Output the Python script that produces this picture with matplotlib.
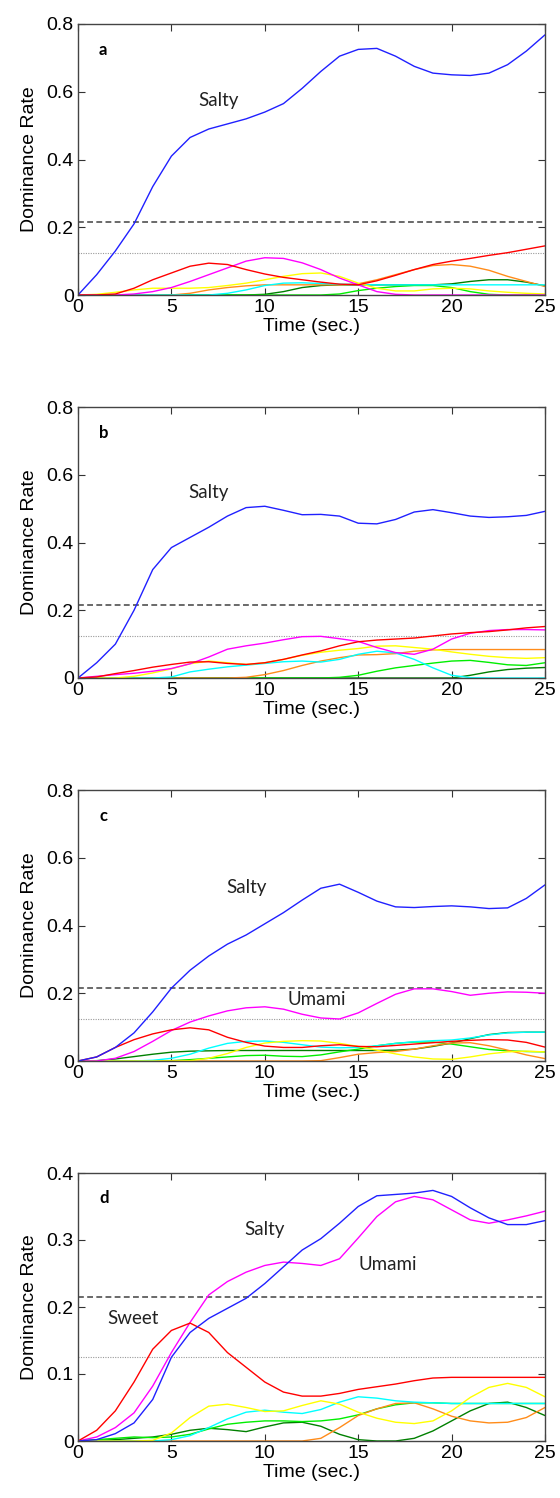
import matplotlib
matplotlib.use("Agg")
import matplotlib.pyplot as plt

# ---------------- data (time in seconds, 1-s steps) ----------------
time = list(range(26))

# Panel a
a_blue    = [0, 0.06, 0.13, 0.21, 0.32, 0.41, 0.465, 0.49, 0.505, 0.52, 0.54, 0.565, 0.61, 0.66, 0.705, 0.725, 0.728, 0.705, 0.675, 0.655, 0.65, 0.648, 0.655, 0.68, 0.72, 0.768]
a_red     = [0, 0, 0.003, 0.02, 0.045, 0.065, 0.085, 0.094, 0.09, 0.075, 0.062, 0.052, 0.045, 0.038, 0.032, 0.03, 0.042, 0.058, 0.075, 0.09, 0.1, 0.108, 0.117, 0.125, 0.135, 0.145]
a_magenta = [0, 0, 0, 0.003, 0.01, 0.022, 0.04, 0.06, 0.08, 0.1, 0.11, 0.108, 0.095, 0.075, 0.05, 0.03, 0.01, 0.002, 0, 0, 0, 0, 0, 0, 0, 0]
a_yellow  = [0, 0.002, 0.008, 0.015, 0.02, 0.02, 0.02, 0.022, 0.028, 0.035, 0.045, 0.055, 0.063, 0.065, 0.055, 0.035, 0.02, 0.012, 0.012, 0.018, 0.02, 0.018, 0.012, 0.008, 0.005, 0.003]
a_cyan    = [0, 0, 0, 0, 0, 0, 0, 0, 0.005, 0.015, 0.028, 0.035, 0.036, 0.034, 0.032, 0.031, 0.03, 0.03, 0.03, 0.03, 0.03, 0.03, 0.03, 0.03, 0.03, 0.03]
a_orange  = [0, 0, 0, 0, 0, 0, 0.005, 0.015, 0.022, 0.027, 0.03, 0.03, 0.03, 0.03, 0.03, 0.033, 0.045, 0.06, 0.075, 0.087, 0.09, 0.085, 0.073, 0.055, 0.04, 0.025]
a_lime    = [0, 0, 0, 0, 0, 0, 0, 0, 0, 0, 0, 0, 0, 0, 0.003, 0.013, 0.02, 0.025, 0.028, 0.028, 0.022, 0.01, 0.002, 0, 0, 0]
a_dgreen  = [0, 0, 0, 0, 0, 0, 0, 0, 0, 0, 0.002, 0.01, 0.022, 0.028, 0.03, 0.03, 0.03, 0.03, 0.03, 0.03, 0.033, 0.04, 0.045, 0.045, 0.038, 0.027]

# Panel b
b_blue    = [0, 0.045, 0.1, 0.2, 0.32, 0.385, 0.415, 0.445, 0.478, 0.503, 0.507, 0.495, 0.482, 0.483, 0.478, 0.457, 0.455, 0.468, 0.49, 0.497, 0.488, 0.478, 0.474, 0.476, 0.48, 0.492]
b_red     = [0, 0.003, 0.013, 0.022, 0.032, 0.04, 0.047, 0.048, 0.043, 0.04, 0.045, 0.055, 0.068, 0.08, 0.095, 0.107, 0.112, 0.115, 0.118, 0.124, 0.13, 0.134, 0.137, 0.142, 0.148, 0.152]
b_magenta = [0, 0.005, 0.01, 0.014, 0.02, 0.028, 0.042, 0.062, 0.085, 0.095, 0.103, 0.113, 0.122, 0.123, 0.116, 0.108, 0.09, 0.075, 0.07, 0.085, 0.115, 0.132, 0.14, 0.143, 0.143, 0.142]
b_yellow  = [0, 0, 0, 0.005, 0.015, 0.027, 0.042, 0.05, 0.045, 0.04, 0.045, 0.055, 0.067, 0.076, 0.082, 0.087, 0.094, 0.095, 0.09, 0.085, 0.077, 0.07, 0.064, 0.06, 0.058, 0.06]
b_cyan    = [0, 0, 0, 0, 0, 0.003, 0.018, 0.026, 0.033, 0.038, 0.043, 0.048, 0.05, 0.047, 0.055, 0.07, 0.079, 0.074, 0.055, 0.03, 0.008, 0.001, 0, 0, 0, 0]
b_orange  = [0, 0, 0, 0, 0, 0, 0, 0, 0, 0.002, 0.01, 0.022, 0.037, 0.05, 0.06, 0.068, 0.069, 0.072, 0.079, 0.083, 0.084, 0.084, 0.084, 0.084, 0.084, 0.084]
b_lime    = [0, 0, 0, 0, 0, 0, 0, 0, 0, 0, 0, 0, 0, 0, 0.002, 0.008, 0.02, 0.03, 0.037, 0.044, 0.05, 0.052, 0.046, 0.039, 0.037, 0.045]
b_dgreen  = [0, 0, 0, 0, 0, 0, 0, 0, 0, 0, 0, 0, 0, 0, 0, 0, 0, 0, 0, 0, 0, 0.008, 0.018, 0.025, 0.029, 0.031]

# Panel c
c_blue    = [0, 0.012, 0.04, 0.083, 0.145, 0.215, 0.268, 0.31, 0.345, 0.372, 0.405, 0.438, 0.475, 0.51, 0.522, 0.498, 0.472, 0.455, 0.453, 0.456, 0.458, 0.455, 0.45, 0.452, 0.48, 0.52]
c_red     = [0, 0.012, 0.04, 0.063, 0.08, 0.092, 0.098, 0.092, 0.07, 0.055, 0.044, 0.04, 0.04, 0.045, 0.048, 0.043, 0.042, 0.046, 0.05, 0.054, 0.058, 0.061, 0.063, 0.062, 0.055, 0.041]
c_magenta = [0, 0, 0.008, 0.028, 0.058, 0.09, 0.115, 0.133, 0.148, 0.157, 0.16, 0.153, 0.138, 0.127, 0.124, 0.142, 0.17, 0.197, 0.213, 0.213, 0.205, 0.194, 0.2, 0.204, 0.203, 0.2]
c_yellow  = [0, 0, 0, 0, 0, 0, 0.001, 0.008, 0.022, 0.04, 0.053, 0.058, 0.06, 0.059, 0.052, 0.043, 0.032, 0.021, 0.012, 0.006, 0.005, 0.012, 0.021, 0.027, 0.029, 0.027]
c_cyan    = [0, 0, 0, 0, 0.002, 0.008, 0.02, 0.038, 0.052, 0.058, 0.059, 0.055, 0.048, 0.041, 0.039, 0.04, 0.045, 0.052, 0.057, 0.06, 0.062, 0.068, 0.077, 0.083, 0.085, 0.085]
c_orange  = [0, 0, 0, 0, 0, 0, 0, 0, 0, 0, 0, 0, 0, 0.001, 0.01, 0.02, 0.025, 0.028, 0.035, 0.045, 0.053, 0.054, 0.045, 0.032, 0.018, 0.007]
c_lime    = [0, 0, 0, 0, 0, 0.001, 0.004, 0.008, 0.012, 0.016, 0.017, 0.014, 0.013, 0.018, 0.027, 0.035, 0.045, 0.052, 0.056, 0.056, 0.05, 0.042, 0.034, 0.03, 0.028, 0.027]
c_dgreen  = [0, 0.001, 0.006, 0.013, 0.02, 0.026, 0.029, 0.03, 0.031, 0.031, 0.031, 0.031, 0.031, 0.031, 0.031, 0.031, 0.031, 0.032, 0.035, 0.043, 0.053, 0.066, 0.078, 0.084, 0.085, 0.085]

# Panel d
d_blue    = [0, 0.002, 0.011, 0.027, 0.062, 0.125, 0.162, 0.183, 0.198, 0.213, 0.235, 0.26, 0.285, 0.302, 0.325, 0.35, 0.366, 0.368, 0.37, 0.374, 0.365, 0.348, 0.333, 0.323, 0.323, 0.329]
d_red     = [0, 0.016, 0.045, 0.088, 0.137, 0.165, 0.176, 0.162, 0.132, 0.11, 0.088, 0.073, 0.067, 0.067, 0.071, 0.077, 0.081, 0.085, 0.09, 0.094, 0.095, 0.095, 0.095, 0.095, 0.095, 0.095]
d_magenta = [0, 0.006, 0.02, 0.042, 0.082, 0.132, 0.177, 0.218, 0.238, 0.252, 0.262, 0.267, 0.265, 0.262, 0.272, 0.303, 0.335, 0.357, 0.365, 0.36, 0.345, 0.33, 0.325, 0.33, 0.336, 0.343]
d_yellow  = [0, 0, 0, 0, 0.001, 0.012, 0.035, 0.052, 0.055, 0.05, 0.044, 0.045, 0.053, 0.06, 0.055, 0.043, 0.034, 0.028, 0.026, 0.03, 0.045, 0.065, 0.08, 0.086, 0.08, 0.066]
d_cyan    = [0, 0, 0, 0, 0, 0.002, 0.008, 0.02, 0.033, 0.043, 0.046, 0.043, 0.041, 0.047, 0.058, 0.066, 0.064, 0.06, 0.058, 0.057, 0.056, 0.056, 0.056, 0.056, 0.056, 0.056]
d_orange  = [0, 0, 0, 0, 0, 0, 0, 0, 0, 0, 0, 0, 0, 0.004, 0.02, 0.038, 0.048, 0.056, 0.057, 0.048, 0.037, 0.03, 0.027, 0.028, 0.035, 0.05]
d_lime    = [0, 0.002, 0.004, 0.006, 0.005, 0.006, 0.01, 0.018, 0.025, 0.028, 0.03, 0.03, 0.029, 0.03, 0.033, 0.039, 0.048, 0.054, 0.057, 0.057, 0.056, 0.056, 0.056, 0.056, 0.056, 0.056]
d_dgreen  = [0, 0.001, 0.002, 0.004, 0.006, 0.01, 0.016, 0.019, 0.017, 0.014, 0.021, 0.027, 0.028, 0.022, 0.01, 0.002, 0, 0, 0.004, 0.015, 0.03, 0.045, 0.056, 0.058, 0.05, 0.038]

panel_letters = ["a", "b", "c", "d"]
y_max = [0.8, 0.8, 0.8, 0.4]
y_ticks_abc = [0, 0.2, 0.4, 0.6, 0.8]
y_tick_labels_abc = ["0", "0.2", "0.4", "0.6", "0.8"]
y_ticks_d = [0, 0.1, 0.2, 0.3, 0.4]
y_tick_labels_d = ["0", "0.1", "0.2", "0.3", "0.4"]
x_ticks = [0, 5, 10, 15, 20, 25]
dashed_level = 0.215
dotted_level = 0.125

# annotations: (text, x, y)
annots = [
    [("Salty", 7.5, 0.575)],
    [("Salty", 7.0, 0.548)],
    [("Salty", 9.0, 0.513), ("Umami", 12.8, 0.183)],
    [("Salty", 10.0, 0.315), ("Umami", 16.6, 0.264), ("Sweet", 2.95, 0.183)],
]

colors = {
    "dgreen": "#008000",
    "lime": "#00ee00",
    "orange": "#ff8c1a",
    "cyan": "#00ffff",
    "yellow": "#ffff00",
    "magenta": "#ff00ff",
    "red": "#ff0000",
    "blue": "#2020ff",
}

panels = [
    {"dgreen": a_dgreen, "lime": a_lime, "orange": a_orange, "cyan": a_cyan,
     "yellow": a_yellow, "magenta": a_magenta, "red": a_red, "blue": a_blue},
    {"dgreen": b_dgreen, "lime": b_lime, "orange": b_orange, "cyan": b_cyan,
     "yellow": b_yellow, "magenta": b_magenta, "red": b_red, "blue": b_blue},
    {"dgreen": c_dgreen, "lime": c_lime, "orange": c_orange, "cyan": c_cyan,
     "yellow": c_yellow, "magenta": c_magenta, "red": c_red, "blue": c_blue},
    {"dgreen": d_dgreen, "lime": d_lime, "orange": d_orange, "cyan": d_cyan,
     "yellow": d_yellow, "magenta": d_magenta, "red": d_red, "blue": d_blue},
]

# ---------------- figure ----------------
plt.rcParams["font.family"] = ["Liberation Sans", "DejaVu Sans"]
W, H = 560, 1498
fig = plt.figure(figsize=(W / 100, H / 100), dpi=100)

left_px, right_px = 78, 545
bottoms_px = [295, 678, 1061, 1441]
heights_px = [271, 271, 271, 268]

for i, series in enumerate(panels):
    b = bottoms_px[i]
    h = heights_px[i]
    ax = fig.add_axes([left_px / W, 1 - b / H, (right_px - left_px) / W, h / H])

    for key, vals in series.items():
        ax.plot(time, vals, color=colors[key], lw=1.0, solid_capstyle="round")

    ax.axhline(dashed_level, color="#505050", lw=1.2, ls=(0, (3.5, 2)), zorder=1)
    ax.axhline(dotted_level, color="#9a9a9a", lw=0.8, ls=(0, (1, 1.2)), zorder=1)

    ax.set_xlim(0, 25)
    ax.set_ylim(0, y_max[i])
    ax.set_xticks(x_ticks)
    ax.set_xticklabels([str(t) for t in x_ticks])
    if i < 3:
        ax.set_yticks(y_ticks_abc)
        ax.set_yticklabels(y_tick_labels_abc)
    else:
        ax.set_yticks(y_ticks_d)
        ax.set_yticklabels(y_tick_labels_d)

    ax.tick_params(direction="in", top=True, right=True, length=5, width=0.8,
                   labelsize=14, pad=3, colors="#333333", labelcolor="black")
    for sp in ax.spines.values():
        sp.set_color("#444444")
        sp.set_linewidth(1.0)

    ax.set_xlabel("Time (sec.)", fontsize=14, labelpad=1)
    ax.set_ylabel("Dominance Rate", fontsize=14, labelpad=6)

    ax.text(0.045, 0.905, panel_letters[i], transform=ax.transAxes,
            fontsize=12, fontweight="bold", family=["Lato", "DejaVu Sans"],
            ha="left", va="center")

    for (txt, tx, ty) in annots[i]:
        ax.text(tx, ty, txt, fontsize=13.5, family=["Lato", "DejaVu Sans"],
                color="#222222", ha="center", va="center")

fig.savefig("out.png", dpi=100)
